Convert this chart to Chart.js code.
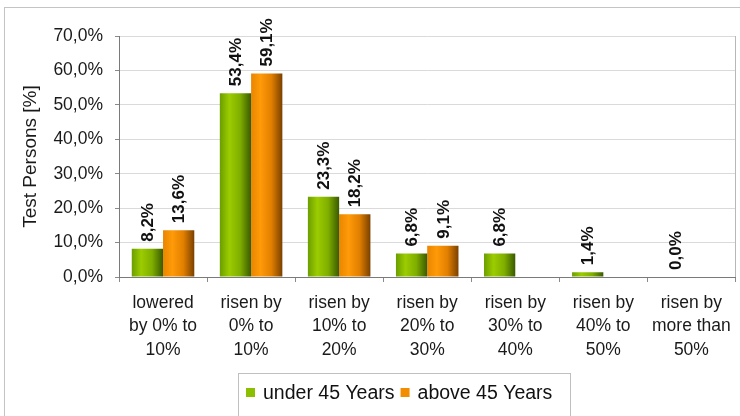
<!DOCTYPE html>
<html>
<head>
<meta charset="utf-8">
<script src="https://cdn.jsdelivr.net/npm/chart.js@4/dist/chart.umd.min.js"></script>
<style>
  html, body { margin: 0; padding: 0; background: #fff; }
  canvas { display: block; }
</style>
</head>
<body>
<canvas id="changeChart" width="740" height="416"></canvas>
<script>
// categories on the x axis (multi-line labels)
const categories = [
    ['lowered', 'by 0% to', '10%'],
    ['risen by', '0% to', '10%'],
    ['risen by', '10% to', '20%'],
    ['risen by', '20% to', '30%'],
    ['risen by', '30% to', '40%'],
    ['risen by', '40% to', '50%'],
    ['risen by', 'more than', '50%']
];

// series values in percent
const under45 = [8.2, 53.4, 23.3, 6.8, 6.8, 1.4, 0.0];
const above45 = [13.6, 59.1, 18.2, 9.1, null, null, null];

const seriesNames = ['under 45 Years', 'above 45 Years'];

// y axis ticks
const yTicks = [0, 10, 20, 30, 40, 50, 60, 70];

const FONT = "'Liberation Sans', Arial, sans-serif";
const CAT_PCT = 0.71;

function pct(v) {
    return v.toFixed(1).replace('.', ',') + '%';
}

// colour stops for the shaded bars
const shades = [
    [[0, '#6a9e00'], [0.3, '#9ccc00'], [0.65, '#7fae00'], [1, '#3a5a00']],
    [[0, '#e98600'], [0.3, '#ff9a08'], [0.65, '#e27f00'], [1, '#7a4000']]
];
const flat = ['#8cbf00', '#f28c00'];

function barFill(context) {
    const chart = context.chart;
    const ds = context.datasetIndex;
    if (!chart.chartArea || !chart.scales.x) return flat[ds];
    const x = chart.scales.x;
    const center = x.getPixelForValue(context.dataIndex);
    const group = x.width / categories.length * CAT_PCT;
    const left = center - group / 2 + ds * group / 2;
    const g = chart.ctx.createLinearGradient(left, 0, left + group / 2, 0);
    shades[ds].forEach(s => g.addColorStop(s[0], s[1]));
    return g;
}

// frame, right border of the plot and legend box
const decorations = {
    id: 'decorations',
    beforeDraw(chart) {
        const ctx = chart.ctx;
        ctx.save();
        ctx.strokeStyle = '#c4c4c4';
        ctx.lineWidth = 1;
        ctx.strokeRect(4.5, 7.5, 800, 500);
        ctx.restore();
    },
    afterDraw(chart) {
        const ctx = chart.ctx;
        const a = chart.chartArea;
        ctx.save();
        ctx.strokeStyle = '#b8b8b8';
        ctx.lineWidth = 1;
        ctx.beginPath();
        ctx.moveTo(Math.round(a.right) + 0.5, a.top);
        ctx.lineTo(Math.round(a.right) + 0.5, a.bottom);
        ctx.stroke();

        // legend
        ctx.strokeStyle = '#c0c0c0';
        ctx.strokeRect(238.5, 373.5, 332, 50);
        ctx.font = '19.5px ' + FONT;
        ctx.textBaseline = 'middle';
        ctx.fillStyle = '#111';
        let x = 246;
        seriesNames.forEach((name, i) => {
            ctx.fillStyle = flat[i];
            ctx.fillRect(x, 388, 9, 9);
            ctx.fillStyle = '#111';
            ctx.fillText(name, x + 17, 394);
            x += 17 + ctx.measureText(name).width + 6;
        });
        ctx.restore();
    },
    afterDatasetsDraw(chart) {
        const ctx = chart.ctx;
        ctx.save();
        ctx.font = 'bold 17px ' + FONT;
        ctx.fillStyle = '#111';
        ctx.textAlign = 'left';
        ctx.textBaseline = 'middle';
        chart.data.datasets.forEach((ds, i) => {
            const meta = chart.getDatasetMeta(i);
            meta.data.forEach((bar, j) => {
                const v = ds.data[j];
                if (v === null || v === undefined) return;
                ctx.save();
                ctx.translate(bar.x + 1, bar.y - 7);
                ctx.rotate(-Math.PI / 2);
                ctx.fillText(pct(v), 0, 0);
                ctx.restore();
            });
        });
        ctx.restore();
    }
};

new Chart(document.getElementById('changeChart'), {
    type: 'bar',
    data: {
        labels: categories,
        datasets: [{
            label: seriesNames[0],
            data: under45,
            backgroundColor: barFill,
            categoryPercentage: CAT_PCT,
            barPercentage: 1.0
        }, {
            label: seriesNames[1],
            data: above45,
            backgroundColor: barFill,
            categoryPercentage: CAT_PCT,
            barPercentage: 1.0
        }]
    },
    options: {
        responsive: false,
        animation: false,
        layout: {
            padding: { left: 10, right: 3, top: 36, bottom: 50 }
        },
        plugins: {
            legend: { display: false },
            tooltip: { enabled: false }
        },
        scales: {
            x: {
                grid: {
                    offset: true,
                    drawOnChartArea: false,
                    drawTicks: true,
                    tickLength: 5,
                    tickColor: '#8a8a8a'
                },
                border: { color: '#7a7a7a', width: 1 },
                ticks: {
                    color: '#1a1a1a',
                    padding: 9,
                    maxRotation: 0,
                    autoSkip: false,
                    font: { family: FONT, size: 17.5, lineHeight: '23.5px' }
                },
                afterFit(scale) { scale.height = 89; }
            },
            y: {
                min: 0,
                max: 70,
                afterBuildTicks(scale) {
                    scale.ticks = yTicks.map(v => ({ value: v }));
                },
                grid: {
                    color: '#dadada',
                    tickLength: 4,
                    tickColor: '#8a8a8a'
                },
                border: { color: '#7a7a7a', width: 1 },
                ticks: {
                    color: '#1a1a1a',
                    padding: 12,
                    font: { family: FONT, size: 17.5 },
                    callback: v => pct(v)
                },
                title: {
                    display: true,
                    text: 'Test Persons [%]',
                    color: '#1a1a1a',
                    padding: { top: 9.6, bottom: 0 },
                    font: { family: FONT, size: 19, lineHeight: 1.2 }
                },
                afterFit(scale) { scale.width = 109; }
            }
        }
    },
    plugins: [decorations]
});
</script>
</body>
</html>
